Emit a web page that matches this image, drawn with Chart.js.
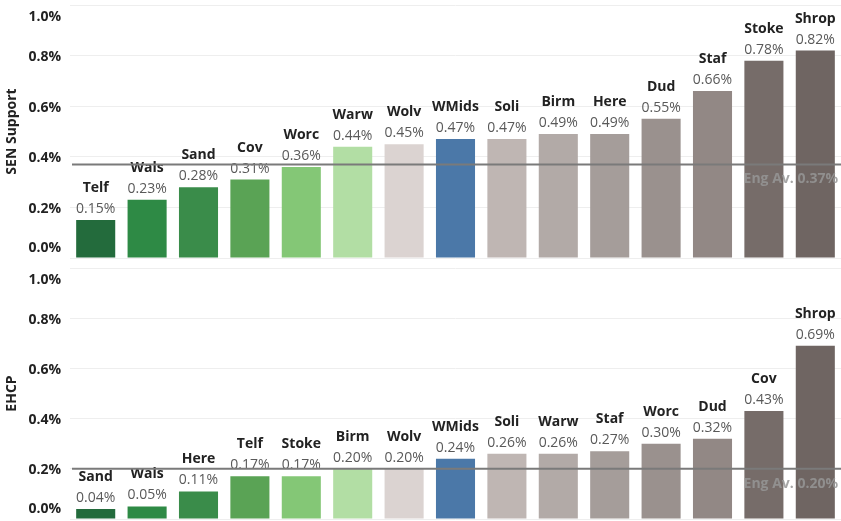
<!DOCTYPE html>
<html lang="en">
<head>
<meta charset="UTF-8" />
<title>SEN Support and EHCP by area</title>
<script src="https://cdn.jsdelivr.net/npm/chart.js"></script>
<style>
  body {
    margin: 0;
    background: #fff;
    width: 841px;
    height: 521px;
    overflow: hidden;
    position: relative;
  }
  .box { position: absolute; left: 0; width: 841px; }
  #top-box { top: 0; height: 262px; }
  #bottom-box { top: 262px; height: 259px; }
</style>
</head>
<body>
<div class="box" id="top-box"><canvas id="senChart"></canvas></div>
<div class="box" id="bottom-box"><canvas id="ehcpChart"></canvas></div>

<script>
  // data (values in %)
  const senAreas = ['Telf', 'Wals', 'Sand', 'Cov', 'Worc', 'Warw', 'Wolv', 'WMids', 'Soli', 'Birm', 'Here', 'Dud', 'Staf', 'Stoke', 'Shrop'];
  const senValues = [0.15, 0.23, 0.28, 0.31, 0.36, 0.44, 0.45, 0.47, 0.47, 0.49, 0.49, 0.55, 0.66, 0.78, 0.82];
  const senAverage = 0.37;

  const ehcpAreas = ['Sand', 'Wals', 'Here', 'Telf', 'Stoke', 'Birm', 'Wolv', 'WMids', 'Soli', 'Warw', 'Staf', 'Worc', 'Dud', 'Cov', 'Shrop'];
  const ehcpValues = [0.04, 0.05, 0.11, 0.17, 0.17, 0.20, 0.20, 0.24, 0.26, 0.26, 0.27, 0.30, 0.32, 0.43, 0.69];
  const ehcpAverage = 0.20;

  const yTicks = [0, 0.2, 0.4, 0.6, 0.8, 1.0];

  // colour goes by rank position, same in both panels
  const barColours = ['#236b3c', '#2e8a45', '#3a8c4a', '#5aa355', '#84c776', '#b2dea4', '#dbd3d1', '#4b78a8',
                      '#bfb6b3', '#b2aaa7', '#a59d9a', '#9a918e', '#928885', '#766c69', '#6f6562'];

  const FONT = '"Open Sans", "Noto Sans", sans-serif';

  // the original pulls the end tick labels in towards the middle
  const tickNudge = {
    id: 'tickNudge',
    beforeDraw(chart) {
      const items = chart.scales.y.getLabelItems();
      const last = items.length - 1;
      items.forEach((item, i) => {
        if (item._nudged) return;
        const shift = i === 0 ? -10 : (i === last ? 12 : 1.5);
        item.options.translation[1] += shift;
        item._nudged = true;
      });
    }
  };

  const barLabels = {
    id: 'barLabels',
    afterDatasetsDraw(chart) {
      const ctx = chart.ctx;
      const meta = chart.getDatasetMeta(0);
      const data = chart.data.datasets[0].data;
      ctx.save();
      ctx.textAlign = 'center';
      ctx.textBaseline = 'alphabetic';
      meta.data.forEach((bar, i) => {
        ctx.font = '14px ' + FONT;
        ctx.fillStyle = '#595959';
        ctx.fillText(data[i].toFixed(2) + '%', bar.x, bar.y - 7);
        ctx.font = 'bold 14px ' + FONT;
        ctx.fillStyle = '#222';
        ctx.fillText(chart.data.labels[i], bar.x, bar.y - 28);
      });
      ctx.restore();
    }
  };

  const averageLine = {
    id: 'averageLine',
    afterDraw(chart, args, opts) {
      const ctx = chart.ctx;
      const area = chart.chartArea;
      const y = chart.scales.y.getPixelForValue(opts.value);
      ctx.save();
      ctx.strokeStyle = '#7a7a7a';
      ctx.lineWidth = 2;
      ctx.beginPath();
      ctx.moveTo(area.left + 2, y);
      ctx.lineTo(chart.width, y);
      ctx.stroke();
      ctx.font = 'bold 14px ' + FONT;
      ctx.fillStyle = 'rgba(150,150,150,0.85)';
      ctx.textAlign = 'right';
      ctx.textBaseline = 'alphabetic';
      ctx.fillText('Eng Av. ' + opts.value.toFixed(2) + '%', chart.width - 3, y + 19);
      ctx.restore();
    }
  };

  function makeChart(id, areas, values, average, title, padding) {
    return new Chart(document.getElementById(id), {
      type: 'bar',
      data: {
        labels: areas,
        datasets: [{
          data: values,
          backgroundColor: barColours,
          borderWidth: 0,
          categoryPercentage: 1,
          barPercentage: 0.76
        }]
      },
      options: {
        responsive: true,
        maintainAspectRatio: false,
        animation: false,
        layout: { padding: padding },
        scales: {
          x: { display: false },
          y: {
            min: 0,
            max: 1,
            afterBuildTicks: s => { s.ticks = yTicks.map(v => ({ value: v })); },
            afterFit: s => { s.width = 70; s.paddingTop = 0; s.paddingBottom = 0; },
            border: { display: false },
            grid: { color: '#eeeeee', drawTicks: false },
            ticks: {
              padding: 9,
              color: '#222',
              font: { family: FONT, size: 14, weight: 'bold' },
              callback: v => v.toFixed(1) + '%'
            },
            title: {
              display: true,
              text: title,
              color: '#222',
              padding: { top: 4, bottom: 0 },
              font: { family: FONT, size: 14, weight: 'bold' }
            }
          }
        },
        plugins: {
          legend: { display: false },
          tooltip: { enabled: false },
          averageLine: { value: average }
        }
      },
      plugins: [tickNudge, barLabels, averageLine]
    });
  }

  makeChart('senChart', senAreas, senValues, senAverage, 'SEN Support', { top: 5, bottom: 4, left: 0, right: 0 });
  makeChart('ehcpChart', ehcpAreas, ehcpValues, ehcpAverage, 'EHCP', { top: 6, bottom: 2, left: 0, right: 0 });
</script>
</body>
</html>
